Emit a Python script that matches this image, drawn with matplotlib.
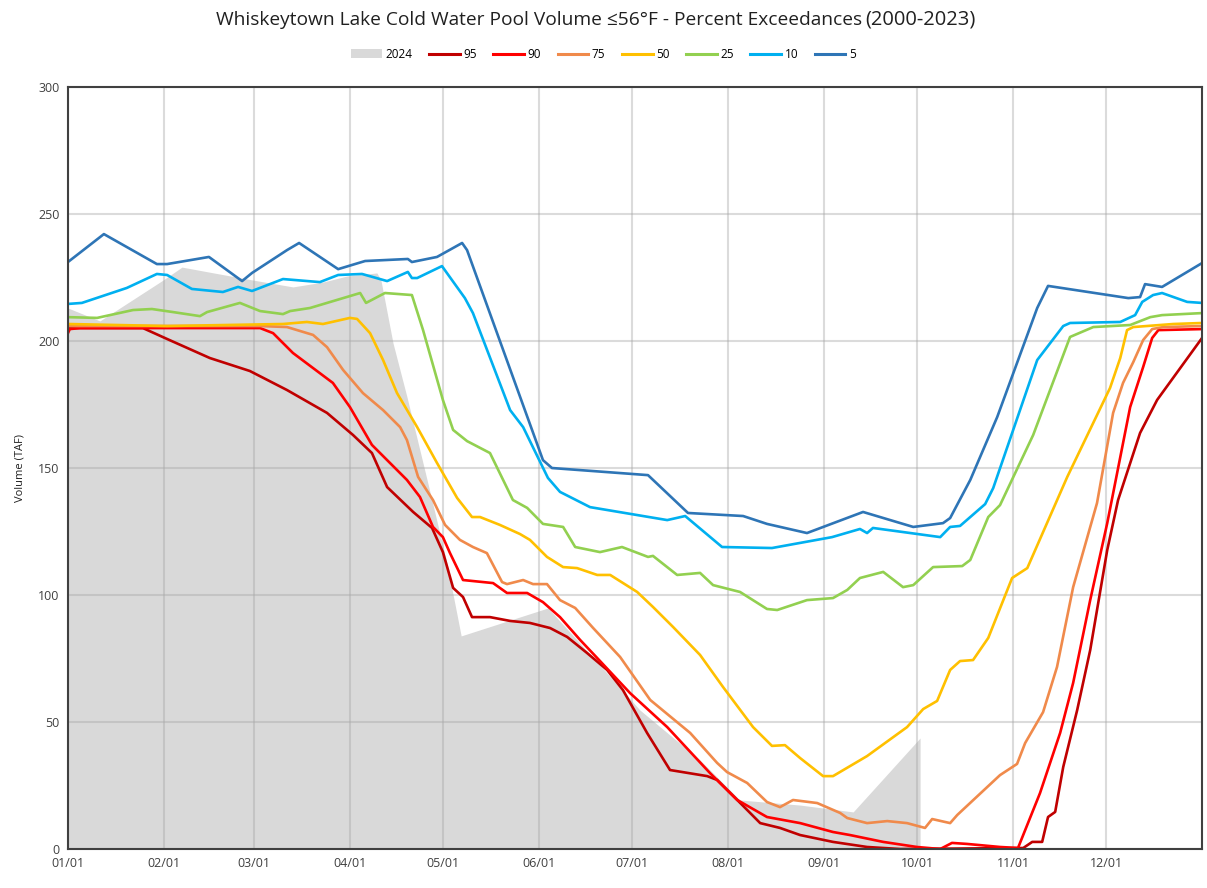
import matplotlib
matplotlib.use("Agg")
import matplotlib.pyplot as plt
from matplotlib.patches import Patch
from matplotlib.lines import Line2D

# day of year (2024, leap) and volume (TAF)
days_2024 = [0, 10.3, 30.7, 36.8, 57.8, 72.6, 82.3, 90.1, 99.7, 101, 104.9, 109.4, 115.9,
             122.3, 126.9, 154.9, 171.7, 184.6, 204, 216.9, 236.3, 253.4, 275]
vol_2024 = [213, 207.9, 224, 229.1, 224.4, 221.3, 223.2, 225.6, 226.8, 224, 199.2, 178, 145.3,
            112.6, 83.9, 94.9, 72.4, 54.7, 35, 19.3, 17.3, 14.6, 43.7]

days_95 = [0, 24.2, 32, 45.8, 58.7, 70.7, 83.6, 92, 98.1, 103, 111.4, 117.5, 121, 124.3, 127.5,
           130.4, 136.2, 142.7, 149.1, 155.6, 161.1, 167.5, 174, 179.1, 186.9, 194.3, 206.3,
           209.5, 216, 223.4, 229.8, 236.3, 246.9, 257.9, 268.6, 308.3, 311.2, 314.4, 316.3,
           318.6, 321.2, 325.7, 329.9, 335.4, 338.9, 346, 351.5, 366]
vol_95 = [205.1, 205.1, 200.8, 193.3, 188.2, 180.7, 171.7, 163, 155.9, 142.5, 132.7, 126.4, 116.9,
          102.8, 99.2, 91.3, 91.3, 89.8, 89, 87, 83.5, 77.2, 70.5, 62.6, 45.7, 31.1, 28.7, 27.2,
          19.3, 10.2, 8.3, 5.5, 2.8, 0.8, 0, 0.4, 2.8, 2.8, 12.6, 14.6, 32.3, 54.7, 78.3, 117.7,
          137.4, 163.8, 176.8, 201.2]

days_90 = [0, 0.6, 3.9, 62, 66.2, 72.6, 85.5, 91, 98.1, 109.4, 113.6, 117.8, 121, 123.3, 127.5,
           137.2, 141.7, 148.2, 153.3, 158.8, 165.3, 170.8, 181.4, 193.4, 207.2, 216, 225.6,
           236.3, 246.9, 252.4, 263.1, 274, 281.5, 285.3, 290.2, 300.8, 306.6, 313.7, 320.2,
           324.4, 329.9, 335.4, 342.8, 347, 349.9, 351.9, 366]
vol_90 = [203.1, 204.7, 205.1, 205.1, 203.1, 195.3, 183.5, 174, 159.1, 145.3, 138.6, 126.8, 122.8,
          116.5, 105.9, 104.7, 100.8, 100.8, 97.2, 91.3, 82.3, 75.2, 61.4, 48, 29.9, 19.3, 12.6,
          10.2, 6.7, 5.5, 2.8, 0.8, 0, 2.4, 2, 0.8, 0.4, 22, 45.7, 65.4, 98, 128.3, 174, 189.8,
          201.2, 204.3, 204.7]

days_75 = [0, 62, 70.7, 79.1, 83.6, 88.8, 95.2, 101.7, 107.2, 109.4, 113, 117.8, 121.7, 126.5,
           130.7, 135.2, 140.1, 141.7, 146.9, 150.1, 154.6, 158.8, 163.7, 169.5, 178.2, 187.9,
           200.8, 209.5, 212.7, 219.2, 225.6, 229.8, 234, 241.8, 249.2, 251.5, 257.9, 264.4,
           270.8, 276.6, 278.9, 284.7, 287, 300.8, 306.3, 308.9, 314.7, 319.2, 324.4, 332.1,
           337.3, 340.5, 343.8, 347, 349.9, 353.5, 366]
vol_75 = [205.9, 205.9, 205.5, 202.4, 197.6, 188.6, 179.5, 172.8, 166.1, 161, 146.5, 137.4, 127.6,
          121.7, 118.9, 116.5, 105.1, 104.3, 105.9, 104.3, 104.3, 98, 94.9, 87, 75.6, 58.7, 45.7,
          33.9, 30.3, 26, 18.5, 16.5, 19.3, 18.1, 14.2, 12.2, 10.2, 11, 10.2, 8.3, 11.8, 10.2,
          13.4, 29.1, 33.5, 41.7, 53.9, 71.7, 103.1, 136.2, 171.7, 183.5, 191.7, 200.4, 204.7,
          205.5, 205.9]

days_50 = [0, 32, 69.4, 77.1, 82.3, 91, 93.3, 97.5, 101.7, 106.2, 112.7, 119.1, 125.6, 130.4, 133,
           139.4, 145.9, 149.1, 154.6, 159.8, 164.3, 170.8, 175, 183.7, 188.8, 195.3, 204, 211.4,
           221.1, 227.2, 231.4, 236.3, 243.7, 246.9, 257.9, 270.8, 276, 280.5, 284.7, 287.9,
           292.1, 297, 304.7, 309.6, 322.5, 336.3, 339.6, 341.8, 343.8, 356.7, 366]
vol_50 = [206.7, 205.9, 206.7, 207.5, 206.7, 209.1, 208.7, 203.1, 192.5, 179.5, 166.1, 152, 138.2,
          130.7, 130.7, 127.6, 124, 121.7, 115, 111, 110.6, 107.9, 107.9, 101.2, 95.3, 87.4, 76.4,
          63.8, 48, 40.6, 40.9, 35.8, 28.7, 28.7, 36.6, 48, 55.1, 58.3, 70.5, 74, 74.4, 83.1,
          106.7, 110.6, 146.5, 181.5, 193.3, 204.3, 205.5, 206.7, 207.1]

days_25 = [0, 9.4, 21, 27.1, 33.9, 42.6, 44.9, 55.5, 62, 69.4, 71.7, 78.1, 94.3, 96.2, 102.3, 111,
           114.6, 121, 124.3, 128.8, 136.2, 143.6, 148.2, 153.3, 159.8, 163.7, 171.7, 178.8,
           187.2, 188.8, 196.6, 204, 208.2, 216.9, 225.6, 228.9, 238.5, 246.9, 251.5, 255.6,
           263.1, 269.5, 272.8, 279.2, 288.6, 291.2, 297, 300.8, 311.5, 323.4, 330.9, 342.8,
           349.3, 353.1, 366]
vol_25 = [209.4, 209.1, 212.2, 212.6, 211.4, 209.8, 211.4, 215, 211.8, 210.6, 211.8, 213, 218.9,
          215, 218.9, 218.1, 204.3, 176.8, 165, 160.6, 155.9, 137.4, 134.3, 128, 126.8, 118.9,
          116.9, 118.9, 115, 115.4, 107.9, 108.7, 103.9, 101.2, 94.5, 94.1, 98, 98.8, 102,
          106.7, 109.1, 103.1, 103.9, 111, 111.4, 113.8, 130.7, 135.4, 163, 201.6, 205.5, 206.3,
          209.4, 210.2, 211]

days_10 = [0, 4.5, 19, 28.7, 32, 40, 50, 54.9, 59.4, 69.4, 81.3, 87.2, 94.9, 103, 109.7, 111,
           112.7, 120.7, 128.1, 130.7, 142.7, 146.9, 154.9, 158.8, 168.5, 193.4, 199.2, 211.1,
           227.2, 246.6, 255.6, 257.9, 259.8, 281.5, 284.7, 287.9, 296, 298.6, 312.8, 321.2,
           323.4, 339.6, 344.4, 346.7, 350.2, 353.1, 361.2, 366]
vol_10 = [214.6, 215, 220.9, 226.4, 226, 220.5, 219.3, 221.3, 219.7, 224.4, 223.2, 226, 226.4,
          223.6, 227.2, 224.8, 224.8, 229.5, 216.9, 211, 172.8, 166.1, 146.1, 140.6, 134.6,
          129.5, 131.1, 118.9, 118.5, 122.8, 126, 124.4, 126.4, 122.8, 126.8, 127.2, 135.8,
          142.1, 192.5, 205.9, 207.1, 207.5, 210.2, 215.4, 218.1, 218.9, 215.4, 215]

days_5 = [0, 11.6, 28.7, 32, 45.5, 56.2, 59.4, 70.7, 74.6, 87.2, 95.9, 109.7, 111, 119.1, 127.2,
          128.8, 153.3, 156.2, 187.2, 200.1, 217.9, 225.6, 238.5, 256.6, 272.8, 282.4, 284.7,
          291.2, 299.9, 312.8, 316.3, 342.2, 346, 347.6, 353.1, 366]
vol_5 = [231.1, 242.1, 230.3, 230.3, 233.1, 223.6, 226.8, 235.8, 238.6, 228.3, 231.5, 232.3, 231.1,
         233.1, 238.6, 235.8, 153.1, 150, 147.2, 132.3, 131.1, 128, 124.4, 132.7, 126.8, 128.3,
         130.3, 145.3, 170.1, 213, 221.7, 216.9, 217.3, 222.4, 221.3, 230.7]

month_starts = [0, 31, 60, 91, 121, 152, 182, 213, 244, 274, 305, 335]
month_labels = ["01/01", "02/01", "03/01", "04/01", "05/01", "06/01",
                "07/01", "08/01", "09/01", "10/01", "11/01", "12/01"]

series = [
    ("95", days_95, vol_95, "#C00000"),
    ("90", days_90, vol_90, "#FF0000"),
    ("75", days_75, vol_75, "#F08A4B"),
    ("50", days_50, vol_50, "#FFC000"),
    ("25", days_25, vol_25, "#92D050"),
    ("10", days_10, vol_10, "#00B0F0"),
    ("5", days_5, vol_5, "#2E75B6"),
]

plt.rcParams['font.family'] = ['Open Sans', 'DejaVu Sans']

fig = plt.figure(figsize=(12.07, 8.88), dpi=100)
ax = fig.add_axes([0.0563, 0.0439, 0.9396, 0.8581])

ax.fill_between(days_2024, vol_2024, 0, color="#D9D9D9", lw=0, zorder=1)
for name, d, v, c in series:
    ax.plot(d, v, color=c, lw=1.9, zorder=3)

ax.set_xlim(0, 366)
ax.set_ylim(0, 300)
ax.set_xticks(month_starts)
ax.set_xticklabels(month_labels)
ax.set_yticks(range(0, 301, 50))
ax.tick_params(length=0, labelsize=9, colors="#404040", pad=6)
ax.set_axisbelow(False)
ax.grid(True, color="#A6A6A6", alpha=0.4, lw=1.5, zorder=2)
for s in ax.spines.values():
    s.set_color("#404040")
    s.set_linewidth(1.5)
    s.set_zorder(4)

ax.set_ylabel("Volume (TAF)", fontsize=8, color="#202020", labelpad=9)

# title in two parts, the year range in its own size
fig.text(0.714, 0.978, "Whiskeytown Lake Cold Water Pool Volume \u226456\u00b0F - Percent Exceedances",
         ha="right", va="center", fontsize=13.8, color="#202020")
fig.text(0.717, 0.978, "(2000-2023)", ha="left", va="center", fontsize=14.5, color="#202020")

handles = [Patch(facecolor="#D9D9D9", edgecolor="none", label="2024")]
for name, d, v, c in series:
    handles.append(Line2D([0], [0], color=c, lw=2.2, label=name))
fig.legend(handles=handles, loc="center", bbox_to_anchor=(0.5, 0.939), ncol=8,
           frameon=False, fontsize=8.5, handlelength=2.6, handletextpad=0.3,
           columnspacing=1.4)

fig.savefig("out.png", dpi=100)
